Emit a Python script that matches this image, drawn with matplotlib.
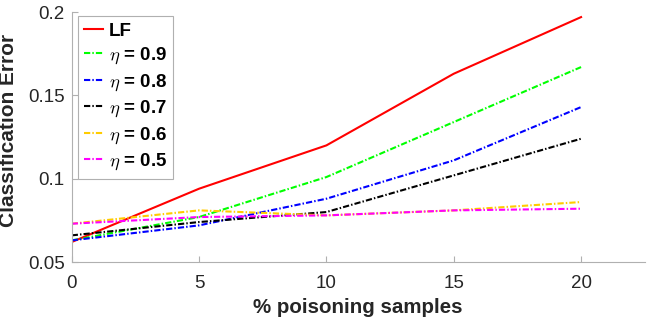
import matplotlib.pyplot as plt

plt.rcParams['font.family'] = ['Liberation Sans', 'DejaVu Sans']
plt.rcParams['mathtext.fontset'] = 'cm'

# Input data
x = [0, 5, 10, 15, 20]
lf = [0.062, 0.094, 0.120, 0.163, 0.197]
eta09 = [0.063, 0.077, 0.101, 0.134, 0.167]
eta08 = [0.063, 0.072, 0.088, 0.111, 0.143]
eta07 = [0.066, 0.074, 0.080, 0.102, 0.124]
eta06 = [0.073, 0.081, 0.078, 0.081, 0.086]
eta05 = [0.073, 0.077, 0.078, 0.081, 0.082]

fig = plt.figure(figsize=(6.64, 3.18), dpi=100)
ax = fig.add_axes([0.108, 0.176, 0.863, 0.786])

dd = (0, (3, 1, 0.7, 1))
ax.plot(x, lf, color='red', lw=1.5, label='LF')
ax.plot(x, eta09, color='#00ff00', lw=1.5, ls=dd, label=r'$\eta$ = 0.9')
ax.plot(x, eta08, color='blue', lw=1.5, ls=dd, label=r'$\eta$ = 0.8')
ax.plot(x, eta07, color='black', lw=1.5, ls=dd, label=r'$\eta$ = 0.7')
ax.plot(x, eta06, color='#ffcc00', lw=1.5, ls=dd, label=r'$\eta$ = 0.6')
ax.plot(x, eta05, color='magenta', lw=1.5, ls=dd, label=r'$\eta$ = 0.5')

ax.set_xlim(0, 22.5)
ax.set_ylim(0.05, 0.2)
ax.set_xticks([0, 5, 10, 15, 20])
ax.set_yticks([0.05, 0.1, 0.15, 0.2])
ax.set_yticklabels(['0.05', '0.1', '0.15', '0.2'])
ax.set_xlabel('% poisoning samples', fontsize=14.8, fontweight='bold', color='#262626', labelpad=5)
ax.set_ylabel('Classification Error', fontsize=15, fontweight='bold', color='#262626')
ax.yaxis.set_label_coords(-0.094, 0.528)

for s in ['top', 'right']:
    ax.spines[s].set_visible(False)
for s in ['left', 'bottom']:
    ax.spines[s].set_color('#b0b0b0')
ax.tick_params(direction='in', length=4, color='#b0b0b0', labelsize=13.5, labelcolor='#262626')
ax.tick_params(axis='x', pad=9)
ax.tick_params(axis='y', pad=5)

leg = ax.legend(loc='upper left', prop={'weight': 'bold', 'size': 13.5}, handlelength=1.0,
                handletextpad=0.3, borderpad=0.35, labelspacing=0.32, fancybox=False,
                borderaxespad=0, bbox_to_anchor=(0.0105, 0.984))
leg.get_frame().set_edgecolor('#b0b0b0')
leg.get_frame().set_linewidth(0.8)
leg.get_frame().set_alpha(1)

fig.savefig('out.png', dpi=100)
